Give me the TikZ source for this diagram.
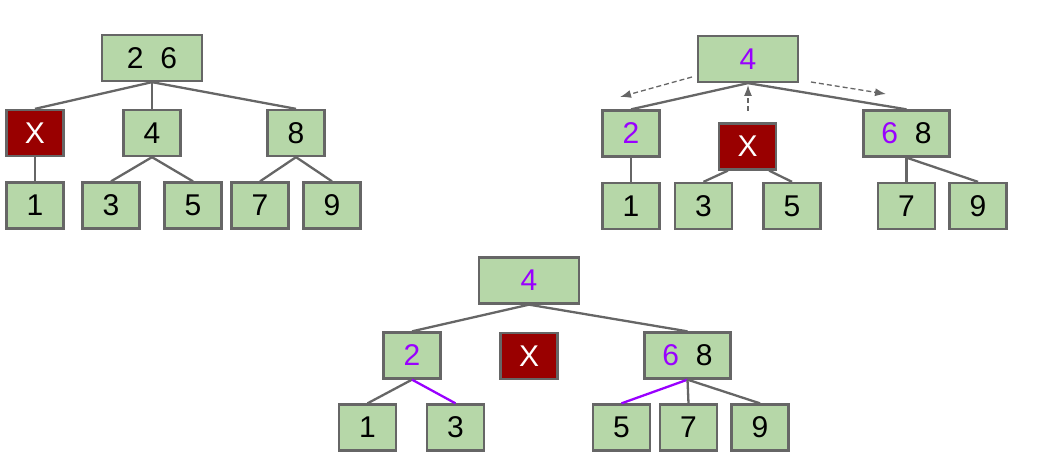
\documentclass[tikz,border=0pt]{standalone}
\usepackage{fontspec}
\setmainfont{Liberation Sans}
\usetikzlibrary{positioning,arrows.meta}
\tikzset{>={Latex[length=11pt,width=8pt]}}
\definecolor{boxgreen}{HTML}{B6D7A8}
\definecolor{edgegray}{HTML}{666666}
\definecolor{deadred}{HTML}{990000}
\definecolor{newpurple}{HTML}{9900FF}
\tikzset{
  keybox/.style={draw=edgegray, fill=boxgreen, line width=2.3pt, inner sep=0pt,
    minimum width=57pt, minimum height=46pt, font=\fontsize{30}{34}\selectfont},
  widebox/.style={keybox, minimum width=100pt},
  pairbox/.style={keybox, minimum width=86pt},
  gone/.style={keybox, fill=deadred, text=white},
  link/.style={draw=edgegray, line width=2.3pt},
  newlink/.style={draw=newpurple, line width=2.3pt},
  moveto/.style={draw=edgegray, line width=1.3pt, dash pattern=on 5pt off 3pt, ->}
}
\newcommand{\pnum}[1]{\textcolor{newpurple}{#1}}

\begin{document}
\begin{tikzpicture}[x=1pt, y=-1pt]
	\useasboundingbox (0,0) rectangle (1038,454);
	% first tree
	\node[widebox] (top1) at (152,58) {2~~6};
	\node[gone] (del1) at (35,133) {X};
	\node[keybox] (mid1) at (152,133) {4};
	\node[keybox] (right1) at (296,133) {8};
	\foreach \k/\x in {1/35,3/111,5/193,7/260,9/332}
	{
		\node[keybox] (leafA\k) at (\x,205.5) {\k};
	}
	\foreach \c in {del1,mid1,right1}
		\draw[link] (top1.south) -- (\c.north);
	\draw[link] (del1.south) -- (leafA1.north);
	\draw[link] (mid1.south) -- (leafA3.north);
	\draw[link] (mid1.south) -- (leafA5.north);
	\draw[link] (right1.south) -- (leafA7.north);
	\draw[link] (right1.south) -- (leafA9.north);

	% second tree
	\node[widebox] (top2) at (748,59) {\pnum{4}};
	\node[keybox] (left2) at (631,133.5) {\pnum{2}};
	\node[gone] (del2) at (747.5,146.5) {X};
	\node[pairbox] (right2) at (906.5,133.5) {\pnum{6}~~8};
	\foreach \k/\x in {1/631,3/703.5,5/792,7/906.5,9/978}
	{
		\node[keybox] (leafB\k) at (\x,206) {\k};
	}
	\draw[link] (top2.south) -- (left2.north);
	\draw[link] (top2.south) -- (right2.north);
	\draw[link] (left2.south) -- (leafB1.north);
	\draw[link] ([xshift=10pt]del2.south west) -- (leafB3.north);
	\draw[link] ([xshift=-8pt]del2.south east) -- (leafB5.north);
	\draw[link] (right2.south) -- (leafB7.north);
	\draw[link] (right2.south) -- (leafB9.north);
	\coordinate (fromL) at (692,77);
	\coordinate (toL) at (620,97);
	\coordinate (fromR) at (811,82);
	\coordinate (toR) at (886,94);
	\coordinate (fromX) at (748,111);
	\coordinate (toX) at (748,85);
	\draw[moveto] (fromL) -- (toL);
	\draw[moveto] (fromR) -- (toR);
	\draw[moveto] (fromX) -- (toX);

	% third tree
	\node[widebox] (top3) at (529,280.5) {\pnum{4}};
	\node[keybox] (left3) at (412,355.5) {\pnum{2}};
	\node[gone] (del3) at (529,356) {X};
	\node[pairbox] (right3) at (687.5,355.5) {\pnum{6}~~8};
	\foreach \k/\x in {1/367.5,3/455.5,5/621.5,7/688.5,9/760}
	{
		\node[keybox] (leafC\k) at (\x,427.5) {\k};
	}
	\draw[link] (top3.south) -- (left3.north);
	\draw[link] (top3.south) -- (right3.north);
	\draw[link] (left3.south) -- (leafC1.north);
	\draw[newlink] (left3.south) -- (leafC3.north);
	\draw[newlink] (right3.south) -- (leafC5.north);
	\draw[link] (right3.south) -- (leafC7.north);
	\draw[link] (right3.south) -- (leafC9.north);
\end{tikzpicture}
\end{document}
